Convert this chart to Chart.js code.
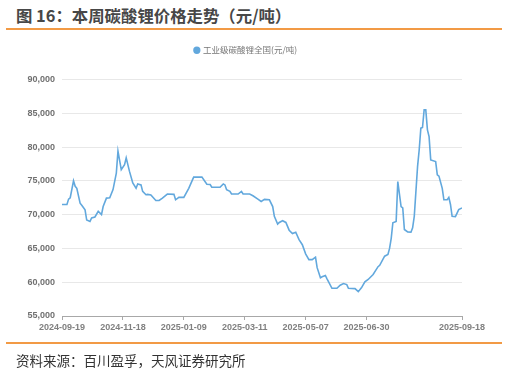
<!DOCTYPE html>
<html>
<head>
<meta charset="utf-8">
<script src="https://cdn.jsdelivr.net/npm/chart.js@4"></script>
<style>
  body { margin: 0; background: #fff; }
  #wrap { position: relative; width: 508px; height: 373px; overflow: hidden; font-family: "Noto Sans CJK SC", "Noto Sans", sans-serif; }
  #title { position: absolute; left: 16px; top: 3px; font-size: 16.4px; font-weight: bold; color: #474747; white-space: nowrap; }
  .rule { position: absolute; left: 6px; width: 496px; height: 2px; background: #f29a45; }
  #source { position: absolute; left: 16px; top: 350px; font-size: 13.5px; color: #333; white-space: nowrap; }
  canvas { position: absolute; left: 0; top: 0; }
</style>
</head>
<body>
<div id="wrap">
  <div id="title">图 16：本周碳酸锂价格走势（元/吨）</div>
  <div class="rule" style="top:28px"></div>
  <canvas id="priceChart" width="508" height="373"></canvas>
  <div class="rule" style="top:342px"></div>
  <div id="source">资料来源：百川盈孚，天风证券研究所</div>
</div>
<script>
// trading-day index (0 = 2024-09-19) and price
const dayIdx = [0, 3, 4, 5, 7, 8, 9, 11, 12, 14, 15, 17, 18, 20, 22, 24, 25, 27, 29, 31,
    33, 34, 36, 38, 39, 41, 43, 45, 46, 48, 49, 51, 52, 54, 57, 59, 61, 64, 68, 69,
    71, 74, 77, 80, 85, 88, 90, 91, 96, 98, 99, 100, 102, 103, 107, 109, 110, 114, 116, 119,
    121, 123, 126, 128, 129, 131, 132, 134, 136, 138, 140, 142, 144, 146, 148, 150, 152, 154, 155, 157,
    158, 160, 161, 164, 167, 169, 171, 173, 174, 178, 180, 182, 184, 186, 189, 192, 193, 196, 198, 199,
    200, 201, 203, 204, 206, 207, 208, 210, 212, 213, 214, 216, 217, 218, 219, 220, 221, 222, 223, 224,
    227, 228, 229, 231, 232, 234, 235, 236, 237, 239, 241, 243];
const price = [71500, 71500, 72300, 72500, 75000, 74200, 73900, 71700, 71400, 70700, 69200, 69000, 69500, 69650, 70500, 70000, 71200, 72450, 72500, 73700,
    76150, 79400, 76650, 77400, 78400, 76400, 74700, 73900, 74550, 74400, 73450, 72950, 73000, 72900, 72100, 72100, 72450, 73050, 73000, 72200,
    72550, 72550, 73900, 75550, 75550, 74500, 74450, 74050, 74050, 74550, 74400, 73700, 73450, 73050, 73050, 73450, 73050, 73050, 72800, 72300,
    71950, 72250, 72200, 71200, 69750, 68600, 68850, 69100, 68850, 67700, 67200, 67400, 66300, 65550, 64200, 63350, 63350, 63700, 62150, 60650,
    60800, 61000, 60500, 59100, 59100, 59550, 59800, 59650, 59100, 59050, 58600, 59200, 60050, 60400, 61150, 62300, 62500, 63850, 64100, 65000,
    66500, 68800, 69000, 74900, 71200, 71000, 67800, 67450, 67400, 68050, 69750, 77100, 79600, 82800, 82900, 85500, 85500, 82550, 81550, 78100,
    77850, 75900, 75700, 73900, 72200, 72200, 72550, 71500, 69750, 69700, 70750, 71000];

const tickIdx = [0, 37, 74, 111, 148, 185, 243];
const tickLabels = ['2024-09-19', '2024-11-18', '2025-01-09', '2025-03-11', '2025-05-07', '2025-06-30', '2025-09-18'];

const seriesName = '工业级碳酸锂全国(元/吨)';
const lineColor = '#62a8dd';

const points = dayIdx.map((d, i) => ({ x: d, y: price[i] }));

// nudge the legend box so it sits where the original one is
const legendNudge = {
    id: 'legendNudge',
    afterLayout: (chart) => {
        const lg = chart.legend;
        lg.left += 15; lg.right += 15;
        lg.top -= 15; lg.bottom -= 15;
    }
};

const ctx = document.getElementById('priceChart').getContext('2d');
new Chart(ctx, {
    type: 'line',
    data: {
        datasets: [{
            label: seriesName,
            data: points,
            borderColor: lineColor,
            backgroundColor: lineColor,
            borderWidth: 1.6,
            pointRadius: 0,
            tension: 0
        }]
    },
    options: {
        responsive: false,
        animation: false,
        layout: { padding: { top: 53, left: 0, right: 46, bottom: 37 } },
        plugins: {
            legend: {
                position: 'top',
                labels: {
                    usePointStyle: true,
                    pointStyle: 'circle',
                    boxWidth: 4,
                    boxHeight: 4,
                    padding: 8,
                    color: '#777',
                    font: { size: 8.5, family: '"Noto Sans CJK SC", sans-serif' }
                }
            },
            tooltip: { enabled: false }
        },
        scales: {
            x: {
                type: 'linear',
                min: 0,
                max: 243,
                afterBuildTicks: (scale) => { scale.ticks = tickIdx.map(v => ({ value: v })); },
                afterFit: (scale) => { scale.height = 20; },
                grid: { drawOnChartArea: false, drawTicks: true, tickLength: 4, color: '#a8a8a8' },
                border: { color: '#a8a8a8' },
                ticks: {
                    autoSkip: false,
                    maxRotation: 0,
                    padding: 2,
                    color: '#808080',
                    font: { size: 9, weight: 'bold', family: 'Liberation Sans, sans-serif' },
                    callback: (v) => tickLabels[tickIdx.indexOf(v)]
                }
            },
            y: {
                min: 55000,
                max: 90000,
                afterFit: (scale) => { scale.width = 62; },
                grid: { color: '#e8e8e8', drawTicks: false },
                border: { display: false },
                ticks: {
                    stepSize: 5000,
                    padding: 7,
                    color: '#707070',
                    font: { size: 9, weight: 'bold', family: 'Liberation Sans, sans-serif' },
                    callback: (v) => v.toLocaleString('en-US')
                }
            }
        }
    },
    plugins: [legendNudge]
});
</script>
</body>
</html>
